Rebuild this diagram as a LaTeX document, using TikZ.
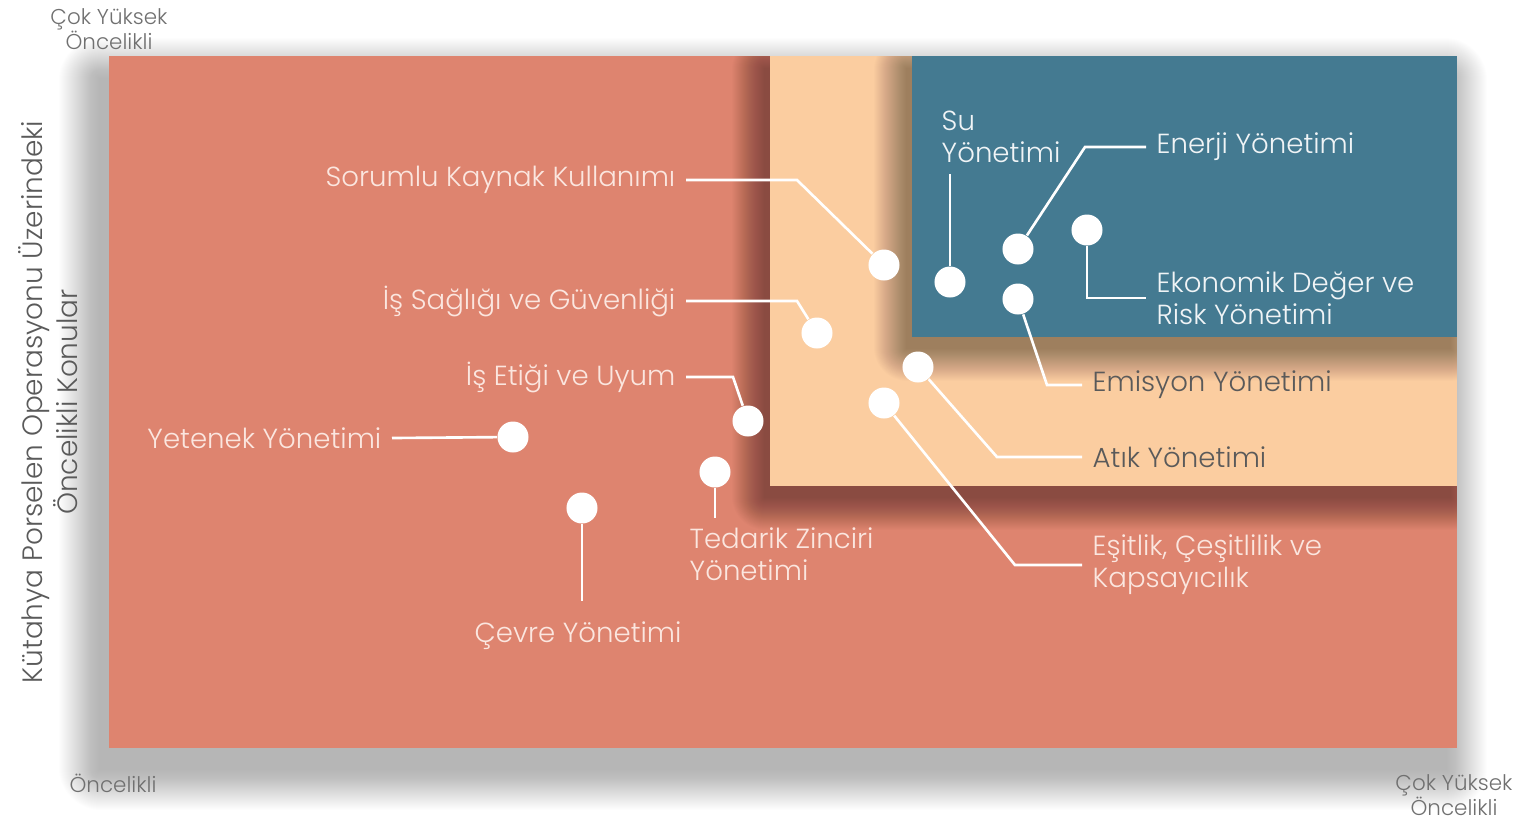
\documentclass[tikz,border=0pt]{standalone}
\usepackage{fontspec}
\setmainfont{Poppins}[UprightFont=* Light]
\usetikzlibrary{positioning,calc}
\definecolor{prRed}{HTML}{DE846F}
\definecolor{prPeach}{HTML}{FBCDA0}
\definecolor{prBlue}{HTML}{447A91}
\definecolor{prInk}{HTML}{5A5A5A}
\definecolor{prAxis}{HTML}{707070}
\definecolor{prPale}{HTML}{FBE6DF}
\definecolor{prFrost}{HTML}{F0F4F6}
\tikzset{
    panel/.style={fill=#1, draw=none},
    dot/.style={circle, fill=white, minimum size=0.31cm, inner sep=0pt},
    lead/.style={draw=white, line width=0.75pt},
    topic/.style={
        font=\fontsize{7.85}{9.1}\selectfont,
        text=prPale,
        align=left,
        inner xsep=0.1cm,
        inner ysep=0pt
    },
    % Variants
    topicdark/.style={topic, text=prInk},
    topicblue/.style={topic, text=prFrost},
    axislbl/.style={font=\fontsize{6.1}{7.1}\selectfont, text=prAxis, align=center, inner sep=0pt}
}
% soft shadow: #1..#4 box, #5 x offset, #6 y offset, #7 spread, #8 opacity per layer
\newcommand{\softshadow}[8]{%
    \foreach \k [evaluate=\k as \rr using 0.01+0.3*\k] in {0,...,#7}{
        \fill[black, opacity=#8, rounded corners=\rr pt] ({#1+#5-\k},{#2+#6-\k}) rectangle ({#3+#5+\k},{#4+#6+\k});
    }%
}

\begin{document}
\begin{tikzpicture}[x=0.01cm, y=-0.01cm]
\useasboundingbox (0,0) rectangle (1538,820);

% panels
\softshadow{109}{56}{1457}{748}{-10}{22}{40}{0.0092}
\fill[panel=prRed] (109,56) rectangle (1457,748);
\begin{scope}
    \clip (109,56) rectangle (1457,748);
    \softshadow{770}{56}{1457}{486}{-6}{12}{32}{0.0105}
    \fill[panel=prPeach] (770,56) rectangle (1457,486);
    \softshadow{912}{56}{1457}{337}{-6}{12}{32}{0.0105}
    \fill[panel=prBlue] (912,56) rectangle (1457,337);
\end{scope}

% dots
\node[dot] (dSorumlu) at (884,265) {};
\node[dot] (dSaglik) at (817,333) {};
\node[dot] (dEtik) at (748,421) {};
\node[dot] (dYetenek) at (513,437) {};
\node[dot] (dTedarik) at (715,472) {};
\node[dot] (dCevre) at (582,508) {};
\node[dot] (dSu) at (950,282) {};
\node[dot] (dEnerji) at (1018,249) {};
\node[dot] (dEkonomik) at (1087,230) {};
\node[dot] (dEmisyon) at (1018,299) {};
\node[dot] (dAtik) at (918,367) {};
\node[dot] (dEsitlik) at (884,403) {};

% labels
\node[topic, anchor=east] (lSorumlu) at (686,180) {Sorumlu Kaynak Kullanımı};
\node[topic, anchor=east] (lSaglik) at (686,301) {İş Sağlığı ve Güvenliği};
\node[topic, anchor=east] (lEtik) at (686,377) {İş Etiği ve Uyum};
\node[topic, anchor=east] (lYetenek) at (392,438) {Yetenek Yönetimi};
\node[topic, anchor=north west] (lTedarik) at (679,527) {Tedarik Zinciri\\Yönetimi};
\node[topic, anchor=north] (lCevre) at (578,621) {Çevre Yönetimi};
\node[topicblue, anchor=south west] (lSu) at (931,163) {Su\\Yönetimi};
\node[topicblue, anchor=west] (lEnerji) at (1146,147) {Enerji Yönetimi};
\node[topicblue, anchor=west] (lEkonomik) at (1146,298) {Ekonomik Değer ve\\Risk Yönetimi};
\node[topicdark, anchor=west] (lEmisyon) at (1082,385) {Emisyon Yönetimi};
\node[topicdark, anchor=west] (lAtik) at (1082,457) {Atık Yönetimi};
\node[topic, anchor=west] (lEsitlik) at (1082,565) {Eşitlik, Çeşitlilik ve\\Kapsayıcılık};

% connectors
\draw[lead] (dSorumlu) -- (797,180) -- (lSorumlu.east);
\draw[lead] (dSaglik) -- (797,301) -- (lSaglik.east);
\draw[lead] (dEtik) -- (733,377) -- (lEtik.east);
\draw[lead] (dYetenek) -- (lYetenek.east);
\draw[lead, shorten >=0.09cm] (dTedarik) -- (dTedarik |- lTedarik.north);
\draw[lead, shorten >=0.2cm] (dCevre) -- (dCevre |- lCevre.north);
\draw[lead, shorten >=0.11cm] (dSu) -- (dSu |- lSu.south);
\draw[lead] (dEnerji) -- (1085,147) -- (lEnerji.west);
\draw[lead] (dEkonomik) -- (1087,298) -- (lEkonomik.west);
\draw[lead] (dEmisyon) -- (1047,385) -- (lEmisyon.west);
\draw[lead] (dAtik) -- (997,457) -- (lAtik.west);
\draw[lead] (dEsitlik) -- (1015,565) -- (lEsitlik.west);

% axes
\node[axislbl] (yHigh) at (109,29) {Çok Yüksek\\Öncelikli};
\node[axislbl] (xLow) at (113,783) {Öncelikli};
\node[axislbl] (xHigh) at (1454,795) {Çok Yüksek\\Öncelikli};
\node[font=\fontsize{7.95}{8.8}\selectfont, text=prInk, rotate=90, align=center, inner sep=0pt] (yTitle) at (48,402) {Kütahya Porselen Operasyonu Üzerindeki\\Öncelikli Konular};
\end{tikzpicture}
\end{document}
